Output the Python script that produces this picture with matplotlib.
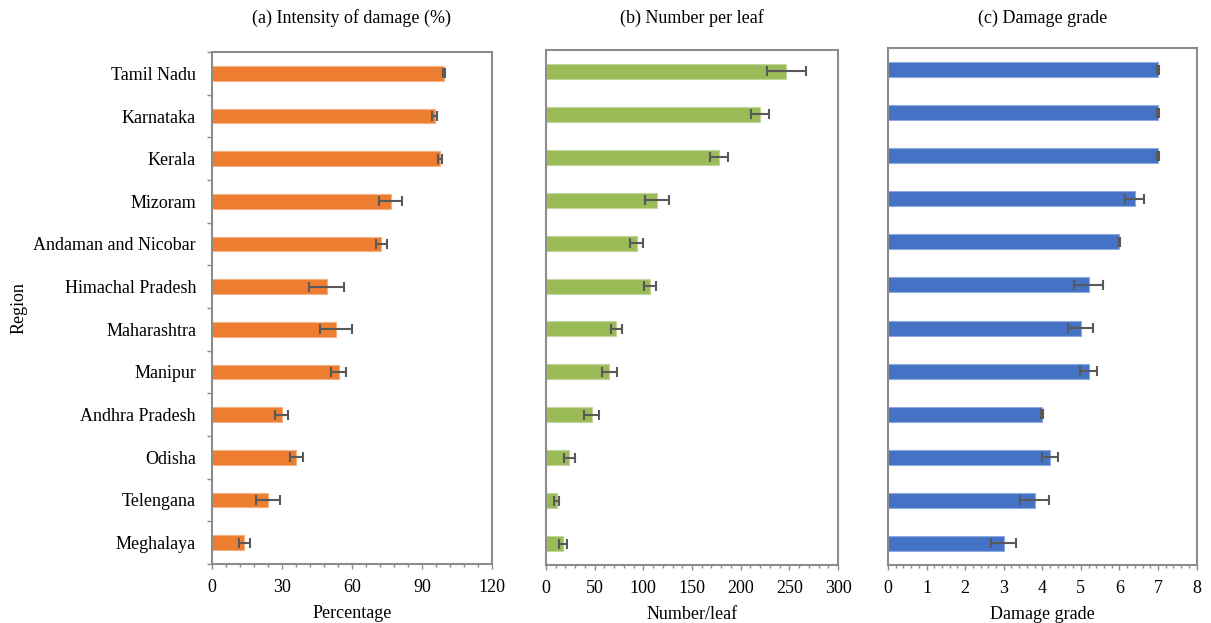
import matplotlib
matplotlib.use("Agg")
import matplotlib.pyplot as plt
from matplotlib.ticker import MultipleLocator, FixedLocator
import numpy as np

plt.rcParams['font.family'] = ['Liberation Serif', 'DejaVu Serif']
plt.rcParams['font.size'] = 13

regions = ["Tamil Nadu", "Karnataka", "Kerala", "Mizoram", "Andaman and Nicobar",
           "Himachal Pradesh", "Maharashtra", "Manipur", "Andhra Pradesh",
           "Odisha", "Telengana", "Meghalaya"]

intensity = [99.3, 95.4, 97.7, 76.6, 72.6, 49.1, 53.1, 54.3, 29.9, 36.1, 24.0, 13.9]
intensity_err = [0.5, 1.0, 1.0, 5.0, 2.2, 7.5, 6.8, 3.2, 2.7, 2.8, 5.0, 2.5]

number_leaf = [247, 220, 178, 114, 93, 107, 72, 65, 47, 24, 11, 17.5]
number_leaf_err = [20, 9.3, 9.3, 12, 6.3, 6, 5.7, 7.8, 7.9, 5.5, 2.7, 4.5]

grade = [7.0, 7.0, 7.0, 6.4, 6.0, 5.2, 5.0, 5.2, 4.0, 4.2, 3.8, 3.0]
grade_err = [0.02, 0.02, 0.02, 0.25, 0.02, 0.37, 0.32, 0.21, 0.02, 0.2, 0.38, 0.32]

titles = ["(a) Intensity of damage (%)", "(b) Number per leaf", "(c) Damage grade"]
xlabels = ["Percentage", "Number/leaf", "Damage grade"]
colors = ["#ED7D31", "#9BBB59", "#4472C4"]
edge_colors = ["#F4B183", "#C3D69B", "#8FAADC"]
xmax = [120, 300, 8]
major_step = [30, 50, 1]
minor_step = [6, 10, 0.2]

W, H = 1211, 623
fig = plt.figure(figsize=(W / 100, H / 100), dpi=100)

# axes boxes in pixels: left, top, right, bottom
boxes = [(212, 52, 492, 564), (546, 50, 838, 565), (888, 48, 1196.5, 565)]

values = [intensity, number_leaf, grade]
errors = [intensity_err, number_leaf_err, grade_err]
spine_col = "#8C8C8C"
y = np.arange(len(regions))

for i in range(3):
    l, t, r, b = boxes[i]
    ax = fig.add_axes([l / W, 1 - b / H, (r - l) / W, (b - t) / H])
    ax.barh(y, values[i], height=0.35, color=colors[i], edgecolor=edge_colors[i],
            linewidth=0.8, zorder=2)
    ax.errorbar(values[i], y, xerr=errors[i], fmt='none', ecolor="#595959",
                elinewidth=1.5, capsize=3.3, capthick=1.5, zorder=3)
    ax.set_ylim(len(regions) - 0.5, -0.5)
    ax.set_xlim(0, xmax[i])
    ax.xaxis.set_major_locator(MultipleLocator(major_step[i]))
    ax.xaxis.set_minor_locator(MultipleLocator(minor_step[i]))
    ax.tick_params(axis='x', which='major', direction='out', length=3.6, width=1,
                   color=spine_col, pad=7, labelsize=13)
    ax.tick_params(axis='x', which='minor', direction='out', length=1.8, width=1,
                   color=spine_col)
    for s in ax.spines.values():
        s.set_color(spine_col)
        s.set_linewidth(1.5)
    if i == 0:
        ax.set_yticks(y)
        ax.set_yticklabels(regions)
        ax.yaxis.set_minor_locator(FixedLocator(np.arange(-0.5, len(regions), 1.0)))
        ax.tick_params(axis='y', which='major', length=0, pad=11.5, labelsize=13)
        ax.tick_params(axis='y', which='minor', direction='out', length=3.6, width=1,
                       color=spine_col)
        ax.set_ylabel("Region", fontsize=13, labelpad=4)
    else:
        ax.set_yticks([])
    ax.set_xlabel(xlabels[i], fontsize=13, labelpad=7)
    fig.text((l + r) / 2 / W, 1 - 18 / H, titles[i], ha='center', va='center',
             fontsize=13)

fig.savefig("out.png", dpi=100)
